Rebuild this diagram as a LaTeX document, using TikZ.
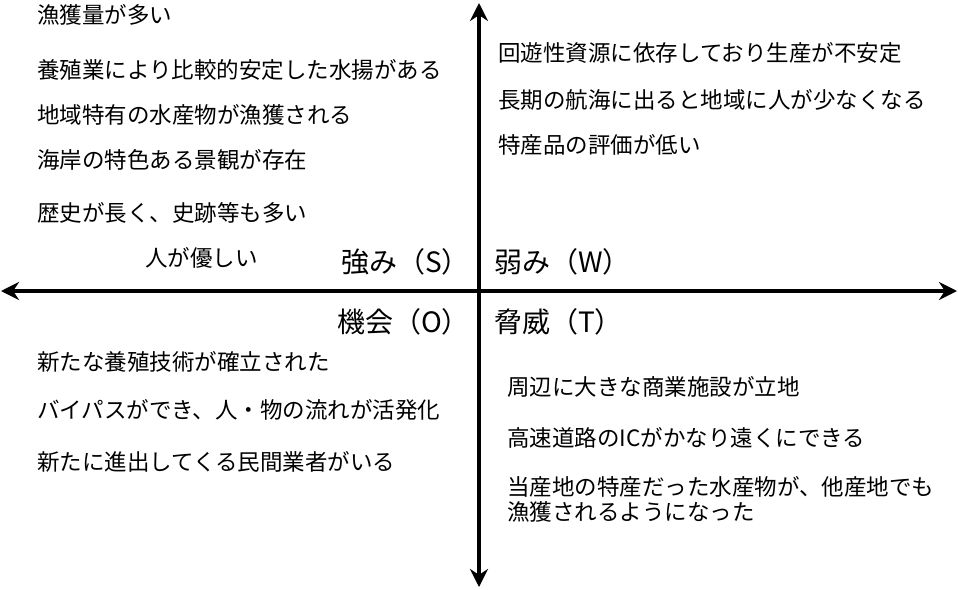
\documentclass[tikz,border=0pt]{standalone}
\usepackage{fontspec}
\setmainfont{Noto Sans CJK JP}
\usetikzlibrary{arrows.meta}
\begin{document}
\begin{tikzpicture}[x=1pt,y=-1pt,
  item/.style={anchor=west,inner sep=0pt,font=\fontsize{22.5}{24}\selectfont},
  lab/.style={inner sep=0pt,font=\fontsize{28}{30}\selectfont},
  axis/.style={line width=4.5pt,{Stealth[length=18pt,width=18pt]}-{Stealth[length=18pt,width=18pt]}}]
\useasboundingbox (0,0) rectangle (958,589);
\coordinate (L) at (1,291); \coordinate (R) at (957,291);
\coordinate (T) at (479,3); \coordinate (B) at (479,587);
\draw[axis] (L) -- (R);
\draw[axis] (T) -- (B);
\node[item] (s1) at (37,15) {漁獲量が多い};
\node[item] (s2) at (37,70) {養殖業により比較的安定した水揚がある};
\node[item] (s3) at (37,115) {地域特有の水産物が漁獲される};
\node[item] (s4) at (37,160) {海岸の特色ある景観が存在};
\node[item] (s5) at (37,213) {歴史が長く、史跡等も多い};
\node[item] (s6) at (145,258) {人が優しい};
\node[lab,anchor=east] (S) at (470,262) {強み（S）};
\node[lab,anchor=west] (W) at (494,262) {弱み（W）};
\node[lab,anchor=east] (O) at (470,322) {機会（O）};
\node[lab,anchor=west] (Th) at (494,322) {脅威（T）};
\node[item] (w1) at (498,53) {回遊性資源に依存しており生産が不安定};
\node[item] (w2) at (498,100) {長期の航海に出ると地域に人が少なくなる};
\node[item] (w3) at (498,145) {特産品の評価が低い};
\node[item] (o1) at (37,362) {新たな養殖技術が確立された};
\node[item] (o2) at (37,410) {バイパスができ、人・物の流れが活発化};
\node[item] (o3) at (37,462) {新たに進出してくる民間業者がいる};
\node[item] (t1) at (507,387) {周辺に大きな商業施設が立地};
\node[item] (t2) at (507,438) {高速道路のICがかなり遠くにできる};
\node[item] (t3) at (507,487) {当産地の特産だった水産物が、他産地でも};
\node[item] (t4) at (507,512) {漁獲されるようになった};
\end{tikzpicture}
\end{document}
